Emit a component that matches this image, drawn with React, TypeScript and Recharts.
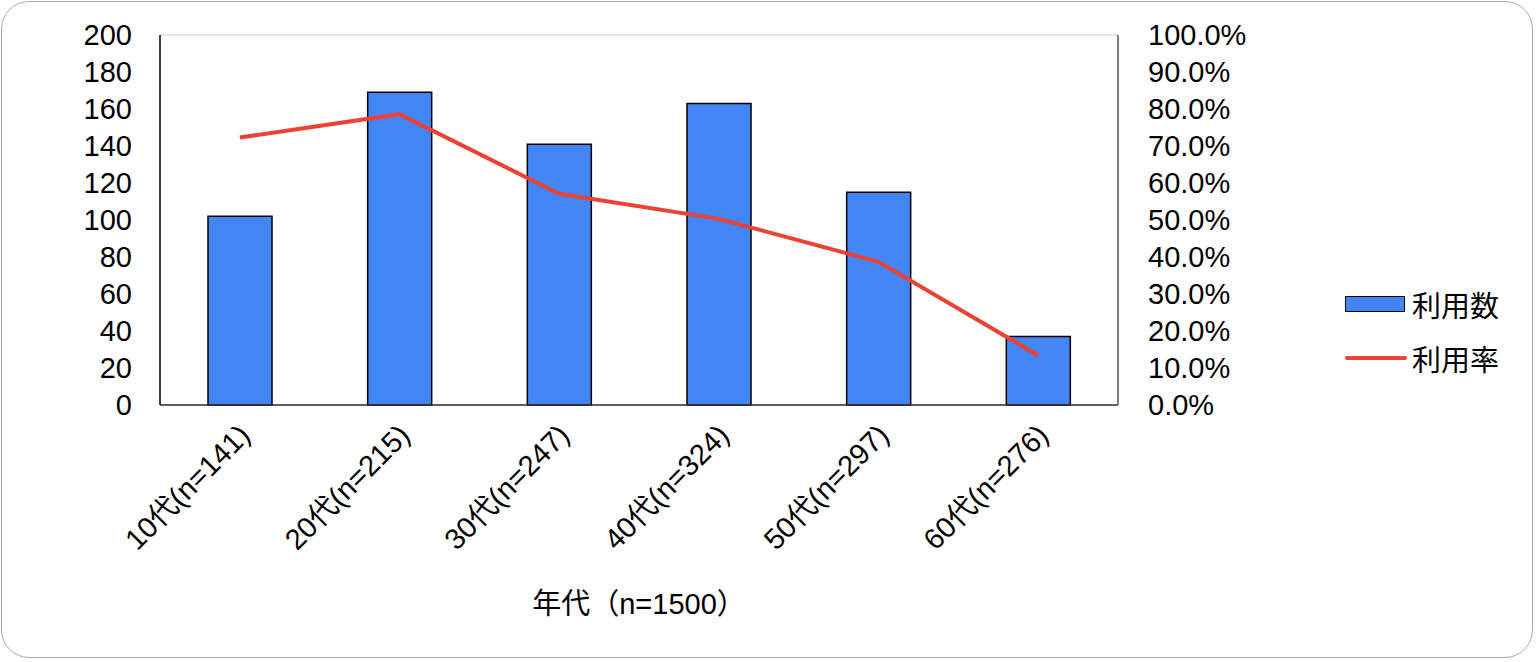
import React from "react";
import {
  ComposedChart, Bar, Line, XAxis, YAxis, CartesianGrid, Legend,
} from "recharts";

const AGES = ["10代(n=141)", "20代(n=215)", "30代(n=247)", "40代(n=324)", "50代(n=297)", "60代(n=276)"];
const USERS = [102, 169, 141, 163, 115, 37];
const RATES = [0.723, 0.786, 0.571, 0.503, 0.387, 0.134];
const LEFT_TICKS = [0, 20, 40, 60, 80, 100, 120, 140, 160, 180, 200];
const RIGHT_TICKS = [0, 0.1, 0.2, 0.3, 0.4, 0.5, 0.6, 0.7, 0.8, 0.9, 1];

const FONT = '"Liberation Sans", Arial, "Noto Sans CJK JP", sans-serif';
const BLUE = "#4285f4";
const RED = "#ea4335";

const data = AGES.map((a, i) => ({ age: a, users: USERS[i], rate: RATES[i] }));

function AgeTick(props: any) {
  const { x, y, payload } = props;
  return (
    <g transform={`translate(${x + 12},${y + 24})`}>
      <text
        textAnchor="end"
        transform="rotate(-45)"
        fontSize={29}
        fontFamily={FONT}
        fill="#000"
      >
        {payload.value}
      </text>
    </g>
  );
}

function LegendBox() {
  const row: React.CSSProperties = {
    display: "flex", alignItems: "center", height: 54,
    fontFamily: FONT, fontSize: 29, color: "#000",
  };
  return (
    <div style={{ width: 190 }}>
      <div style={row}>
        <span style={{
          display: "inline-block", width: 58, height: 14, background: BLUE,
          border: "1.5px solid #000", marginRight: 7,
        }} />
        利用数
      </div>
      <div style={row}>
        <span style={{
          display: "inline-block", width: 62, height: 4, background: RED,
          borderRadius: 2, marginRight: 5,
        }} />
        利用率
      </div>
    </div>
  );
}

export default function App() {
  return (
    <div style={{ position: "absolute", left: 0, top: 0, width: 1536, height: 662, background: "#fff" }}>
      <div style={{
        position: "absolute", left: 1, top: 1, width: 1532, height: 657,
        boxSizing: "border-box", border: "1.5px solid #a8a8a8", borderRadius: 28,
      }} />
      <div style={{ position: "absolute", left: 0, top: 0 }}>
        <ComposedChart
          width={1536}
          height={662}
          data={data}
          margin={{ top: 35, right: 1, left: 0, bottom: 40 }}
        >
          <CartesianGrid vertical={false} stroke="#c8c8c8" strokeWidth={1} />
          <XAxis
            dataKey="age"
            height={217}
            tick={<AgeTick />}
            tickLine={false}
            axisLine={{ stroke: "#333", strokeWidth: 1.5 }}
            interval={0}
            label={{
              value: "年代（n=1500）", position: "insideBottom", offset: 8,
              fontSize: 29, fontFamily: FONT, fill: "#000",
            }}
          />
          <YAxis
            yAxisId="left"
            width={160}
            domain={[0, 200]}
            ticks={LEFT_TICKS}
            tickLine={false}
            tickSize={0}
            tickMargin={28}
            axisLine={{ stroke: "#000", strokeWidth: 1.5 }}
            tick={{ fontSize: 29, fontFamily: FONT, fill: "#000" }}
            interval={0}
          />
          <YAxis
            yAxisId="right"
            orientation="right"
            width={227}
            domain={[0, 1]}
            ticks={RIGHT_TICKS}
            tickLine={false}
            tickSize={0}
            tickMargin={30}
            axisLine={{ stroke: "#555", strokeWidth: 1.5 }}
            tick={{ fontSize: 29, fontFamily: FONT, fill: "#000", textAnchor: "start" }}
            tickFormatter={(v: number) => `${(v * 100).toFixed(1)}%`}
            interval={0}
          />
          <Legend
            layout="vertical"
            align="right"
            verticalAlign="middle"
            content={<LegendBox />}
          />
          <Bar
            yAxisId="left"
            dataKey="users"
            name="利用数"
            fill={BLUE}
            stroke="#000"
            strokeWidth={1.5}
            barSize={64}
            isAnimationActive={false}
          />
          <Line
            yAxisId="right"
            dataKey="rate"
            name="利用率"
            type="linear"
            stroke={RED}
            strokeWidth={4}
            dot={false}
            activeDot={false}
            isAnimationActive={false}
          />
        </ComposedChart>
      </div>
    </div>
  );
}
